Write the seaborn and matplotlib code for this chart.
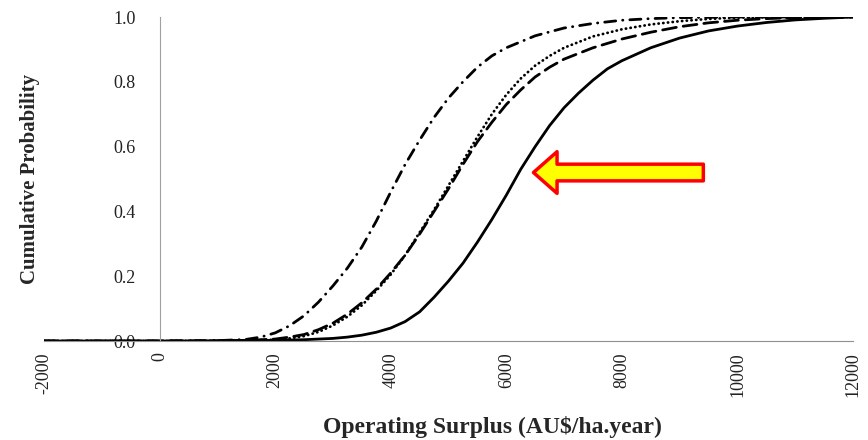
"""Cumulative probability of operating surplus."""
import matplotlib
matplotlib.use('Agg')
import matplotlib.pyplot as plt
import pandas as pd
import seaborn as sns

# operating surplus (AU$/ha.year) and cumulative probability
x_solid = [-2000, 0, 1000, 1500, 2000, 2500, 3000, 3250, 3500, 3750, 4000, 4250,
           4500, 4750, 5000, 5250, 5500, 5750, 6000, 6250, 6500, 6750, 7000, 7250,
           7500, 7750, 8000, 8500, 9000, 9500, 10000, 10500, 11000, 11500, 12000]
p_solid = [0.0, 0.0, 0.0, 0.001, 0.002, 0.004, 0.008, 0.012, 0.018, 0.027, 0.04, 0.06,
           0.09, 0.135, 0.185, 0.24, 0.305, 0.375, 0.45, 0.53, 0.60, 0.665, 0.72, 0.765,
           0.805, 0.84, 0.865, 0.905, 0.935, 0.957, 0.972, 0.983, 0.991, 0.996, 1.0]

x_dashed = [-2000, 0, 1000, 1500, 2000, 2250, 2500, 2750, 3000, 3250, 3500, 3750,
            4000, 4250, 4500, 4750, 5000, 5250, 5500, 5750, 6000, 6250, 6500, 6750,
            7000, 7500, 8000, 8500, 9000, 9500, 10000, 10500, 11000, 12000]
p_dashed = [0.0, 0.0, 0.001, 0.002, 0.006, 0.012, 0.02, 0.035, 0.055, 0.083, 0.118, 0.16,
            0.21, 0.265, 0.33, 0.40, 0.47, 0.545, 0.615, 0.675, 0.73, 0.775, 0.815, 0.845,
            0.87, 0.905, 0.932, 0.953, 0.97, 0.982, 0.99, 0.995, 0.998, 1.0]

x_dotted = [-2000, 0, 1000, 1500, 2000, 2250, 2500, 2750, 3000, 3250, 3500, 3750,
            4000, 4250, 4500, 4750, 5000, 5250, 5500, 5750, 6000, 6250, 6500, 6750,
            7000, 7500, 8000, 8500, 9000, 9500, 10000, 11000, 12000]
p_dotted = [0.0, 0.0, 0.001, 0.002, 0.004, 0.008, 0.015, 0.028, 0.048, 0.075, 0.11, 0.155,
            0.205, 0.265, 0.335, 0.405, 0.48, 0.555, 0.63, 0.70, 0.76, 0.81, 0.85, 0.88,
            0.905, 0.94, 0.962, 0.977, 0.987, 0.994, 0.998, 1.0, 1.0]

x_dashdot = [-2000, 0, 1000, 1500, 1750, 2000, 2250, 2500, 2750, 3000, 3250, 3500,
             3750, 4000, 4250, 4500, 4750, 5000, 5250, 5500, 5750, 6000, 6500, 7000,
             7500, 8000, 8500, 9000, 10000, 12000]
p_dashdot = [0.0, 0.0, 0.001, 0.005, 0.012, 0.025, 0.047, 0.078, 0.12, 0.17, 0.225, 0.29,
             0.37, 0.46, 0.545, 0.62, 0.69, 0.75, 0.80, 0.845, 0.88, 0.905, 0.942, 0.966,
             0.98, 0.99, 0.995, 0.998, 1.0, 1.0]

xticks = [-2000, 0, 2000, 4000, 6000, 8000, 10000, 12000]
yticks = [0.0, 0.2, 0.4, 0.6, 0.8, 1.0]

sns.set_style('white')
plt.rcParams['font.family'] = ['Liberation Serif', 'DejaVu Serif']

fig = plt.figure(figsize=(8.68, 4.40), dpi=100)
ax = fig.add_axes([44 / 868, 99 / 440, 809 / 868, 324 / 440])

series = [
    (x_solid, p_solid, '-'),
    (x_dashed, p_dashed, (0, (5, 2.5))),
    (x_dotted, p_dotted, (0, (0.1, 1.6))),
    (x_dashdot, p_dashdot, (0, (4, 2.5, 0.1, 2.5))),
]
for xs, ps, ls in series:
    df = pd.DataFrame({'x': xs, 'p': ps})
    sns.lineplot(data=df, x='x', y='p', color='black', linewidth=2.0,
                 linestyle=ls, dash_capstyle='round', ax=ax)

# spine position first: moving it resets the tick objects
for s in ['top', 'right']:
    ax.spines[s].set_visible(False)
ax.spines['left'].set_position(('data', 0))
ax.spines['left'].set_color('#a0a0a0')
ax.spines['bottom'].set_color('#909090')

ax.set_xlim(-2000, 12000)
ax.set_ylim(0, 1.0)
ax.set_xticks(xticks)
ax.set_xticklabels([str(t) for t in xticks], rotation=90)
ax.set_yticks(yticks)
ax.set_yticklabels(['%.1f' % t for t in yticks])
ax.tick_params(axis='both', direction='out', length=5, width=1,
               color='#909090', labelcolor='#222222', labelsize=13)
ax.tick_params(axis='y', pad=12)
ax.tick_params(axis='x', pad=3)

ax.set_xlabel('Operating Surplus (AU$/ha.year)', fontsize=17, fontweight='bold')
ax.xaxis.set_label_coords(0.554, -0.23)
ax.set_ylabel('Cumulative Probability', fontsize=15, fontweight='bold')
ax.yaxis.set_label_coords(-0.005, 0.5)

ax.annotate('', xy=(6470, 0.52), xytext=(9410, 0.52),
            arrowprops=dict(arrowstyle='simple,head_length=1.7,head_width=3.0,tail_width=1.2',
                            fc='yellow', ec='red', lw=2.5, mutation_scale=10,
                            shrinkA=0, shrinkB=0))

plt.savefig('out.png', dpi=100)
